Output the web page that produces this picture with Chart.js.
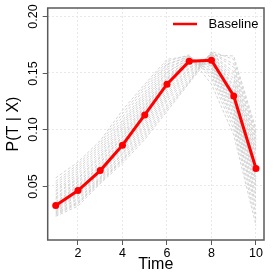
<!DOCTYPE html>
<html>
<head>
<meta charset="utf-8">
<script src="https://cdn.jsdelivr.net/npm/chart.js@4/dist/chart.umd.min.js"></script>
<style>
  html, body { margin: 0; padding: 0; background: #fff; }
  #wrap { width: 273px; height: 273px; }
</style>
</head>
<body>
<div id="wrap"><canvas id="c" width="273" height="273"></canvas></div>
<script>
const times = [1, 2, 3, 4, 5, 6, 7, 8, 9, 10];
const xTicks = [2, 4, 6, 8, 10];
const yTicks = [0.05, 0.10, 0.15, 0.20];
const baseline = [0.0326, 0.0458, 0.0635, 0.086, 0.1128, 0.140, 0.1604, 0.1612, 0.1296, 0.0653];

// grey dashed curves behind the baseline
const g01 = [0.057, 0.071, 0.090, 0.117, 0.140, 0.162, 0.165, 0.140, 0.095, 0.015];
const g02 = [0.054, 0.069, 0.088, 0.114, 0.138, 0.160, 0.166, 0.145, 0.100, 0.020];
const g03 = [0.052, 0.067, 0.086, 0.111, 0.136, 0.158, 0.164, 0.148, 0.104, 0.025];
const g04 = [0.050, 0.065, 0.084, 0.108, 0.133, 0.157, 0.165, 0.150, 0.108, 0.030];
const g05 = [0.048, 0.063, 0.082, 0.106, 0.131, 0.155, 0.163, 0.152, 0.110, 0.034];
const g06 = [0.046, 0.061, 0.080, 0.104, 0.129, 0.153, 0.164, 0.154, 0.113, 0.038];
const g07 = [0.045, 0.059, 0.078, 0.102, 0.127, 0.151, 0.162, 0.156, 0.116, 0.042];
const g08 = [0.043, 0.057, 0.076, 0.100, 0.125, 0.150, 0.163, 0.157, 0.118, 0.046];
const g09 = [0.042, 0.056, 0.075, 0.098, 0.123, 0.148, 0.161, 0.158, 0.120, 0.050];
const g10 = [0.040, 0.054, 0.073, 0.096, 0.121, 0.146, 0.162, 0.159, 0.122, 0.053];
const g11 = [0.039, 0.053, 0.071, 0.094, 0.120, 0.145, 0.160, 0.160, 0.124, 0.056];
const g12 = [0.038, 0.051, 0.070, 0.093, 0.118, 0.144, 0.161, 0.161, 0.126, 0.058];
const g13 = [0.036, 0.050, 0.068, 0.091, 0.117, 0.142, 0.159, 0.162, 0.128, 0.061];
const g14 = [0.035, 0.049, 0.067, 0.089, 0.115, 0.141, 0.160, 0.163, 0.130, 0.064];
const g15 = [0.034, 0.047, 0.065, 0.088, 0.113, 0.139, 0.158, 0.163, 0.132, 0.067];
const g16 = [0.033, 0.046, 0.064, 0.086, 0.111, 0.137, 0.157, 0.164, 0.134, 0.070];
const g17 = [0.032, 0.044, 0.062, 0.084, 0.109, 0.135, 0.155, 0.165, 0.137, 0.073];
const g18 = [0.031, 0.043, 0.061, 0.083, 0.107, 0.133, 0.154, 0.165, 0.139, 0.076];
const g19 = [0.030, 0.042, 0.060, 0.081, 0.105, 0.131, 0.152, 0.166, 0.142, 0.079];
const g20 = [0.029, 0.041, 0.058, 0.079, 0.103, 0.129, 0.151, 0.166, 0.145, 0.082];
const g21 = [0.028, 0.039, 0.057, 0.078, 0.101, 0.127, 0.149, 0.167, 0.148, 0.085];
const g22 = [0.027, 0.038, 0.056, 0.076, 0.099, 0.125, 0.147, 0.167, 0.151, 0.088];
const g23 = [0.026, 0.036, 0.055, 0.074, 0.097, 0.122, 0.145, 0.168, 0.155, 0.091];
const g24 = [0.025, 0.035, 0.054, 0.073, 0.095, 0.120, 0.143, 0.168, 0.158, 0.094];
const g25 = [0.024, 0.034, 0.053, 0.072, 0.093, 0.118, 0.142, 0.169, 0.162, 0.097];
const g26 = [0.023, 0.032, 0.052, 0.070, 0.091, 0.116, 0.141, 0.166, 0.165, 0.100];
const greys = [g01, g02, g03, g04, g05, g06, g07, g08, g09, g10, g11, g12, g13,
  g14, g15, g16, g17, g18, g19, g20, g21, g22, g23, g24, g25, g26];

const FONT = '"Liberation Sans", Arial, sans-serif';
const AXIS = '#5a5a5a';

function toXY(vals) {
  return vals.map(function (v, i) { return { x: times[i], y: v }; });
}

const datasets = greys.map(function (g) {
  return {
    data: toXY(g),
    borderColor: 'rgba(200,200,200,0.8)',
    borderWidth: 1,
    borderDash: [3, 2],
    pointRadius: 0,
    tension: 0,
    order: 2,
  };
});
datasets.push({
  label: 'Baseline',
  data: toXY(baseline),
  borderColor: '#ff0000',
  backgroundColor: '#ff0000',
  borderWidth: 3,
  pointRadius: 3.5,
  pointBackgroundColor: '#ff0000',
  pointBorderWidth: 0,
  tension: 0,
  order: 1,
});

const extras = {
  id: 'extras',
  afterDraw: function (chart) {
    const ctx = chart.ctx;
    const a = chart.chartArea;
    const ys = chart.scales.y;
    ctx.save();
    // box
    ctx.strokeStyle = AXIS;
    ctx.lineWidth = 1.5;
    ctx.strokeRect(a.left, a.top, a.right - a.left, a.bottom - a.top);
    // y tick marks and labels, rotated like R
    ctx.lineWidth = 1;
    ctx.fillStyle = '#000';
    ctx.font = '12.5px ' + FONT;
    ctx.textAlign = 'center';
    ctx.textBaseline = 'middle';
    yTicks.forEach(function (v) {
      const py = Math.round(ys.getPixelForValue(v)) + 0.5;
      ctx.beginPath();
      ctx.moveTo(a.left - 5, py);
      ctx.lineTo(a.left, py);
      ctx.stroke();
      ctx.save();
      ctx.translate(34, py);
      ctx.rotate(-Math.PI / 2);
      ctx.fillText(v.toFixed(2), 0, 0);
      ctx.restore();
    });
    // axis titles
    ctx.font = '16px ' + FONT;
    ctx.fillText('Time', (a.left + a.right) / 2, 265);
    ctx.save();
    ctx.translate(14, (a.top + a.bottom) / 2);
    ctx.rotate(-Math.PI / 2);
    ctx.fillText('P(T | X)', 0, 0);
    ctx.restore();
    // legend
    ctx.strokeStyle = '#ff0000';
    ctx.lineWidth = 2.5;
    ctx.beginPath();
    ctx.moveTo(173, 24);
    ctx.lineTo(197, 24);
    ctx.stroke();
    ctx.font = '13px ' + FONT;
    ctx.textAlign = 'left';
    ctx.fillText('Baseline', 208.5, 24.5);
    ctx.restore();
  },
};

new Chart(document.getElementById('c'), {
  type: 'line',
  data: { datasets: datasets },
  options: {
    responsive: false,
    animation: false,
    layout: { padding: { top: 8, right: 9, left: 0, bottom: 0 } },
    plugins: { legend: { display: false }, tooltip: { enabled: false } },
    scales: {
      x: {
        type: 'linear',
        min: 0.64,
        max: 10.36,
        afterBuildTicks: function (s) { s.ticks = xTicks.map(function (v) { return { value: v }; }); },
        afterFit: function (s) { s.height = 33; },
        grid: {
          color: '#e8e8e8',
          lineWidth: 1,
          tickColor: AXIS,
          tickLength: 5,
          tickWidth: 1,
        },
        border: { display: false, dash: [2, 2] },
        ticks: {
          color: '#000',
          font: { family: FONT, size: 12.5 },
          padding: 1,
          maxRotation: 0,
        },
      },
      y: {
        min: 0.002,
        max: 0.2075,
        afterBuildTicks: function (s) { s.ticks = yTicks.map(function (v) { return { value: v }; }); },
        afterFit: function (s) { s.width = 47.7; },
        grid: {
          color: '#e8e8e8',
          lineWidth: 1,
          drawTicks: false,
        },
        border: { display: false, dash: [2, 2] },
        ticks: { display: false },
      },
    },
  },
  plugins: [extras],
});
</script>
</body>
</html>
